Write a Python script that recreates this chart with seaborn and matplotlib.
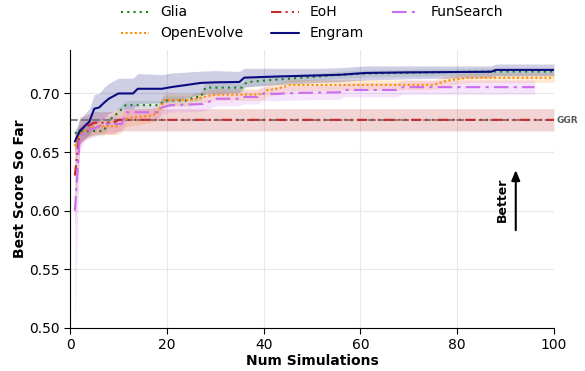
import numpy as np
import matplotlib
matplotlib.use("Agg")
import matplotlib.pyplot as plt
import seaborn as sns

# ---- best-score-so-far curves (knots of the mean curve) ----
engram_x = [1, 2, 4, 5, 6, 7, 8, 10, 13, 14, 19, 21, 24, 27, 30, 35, 36, 43, 52, 56, 61, 70, 87, 88, 100]
engram_y = [0.659, 0.668, 0.676, 0.687, 0.688, 0.692, 0.6955, 0.700, 0.700, 0.704, 0.704, 0.7055,
            0.7072, 0.709, 0.7095, 0.7098, 0.7135, 0.7145, 0.7155, 0.716, 0.7175, 0.718, 0.7185, 0.7201, 0.7201]
engram_lo = [0.008, 0.010, 0.011, 0.012, 0.012, 0.013, 0.013, 0.013, 0.013, 0.013, 0.012, 0.012,
             0.011, 0.010, 0.010, 0.009, 0.008, 0.007, 0.006, 0.006, 0.006, 0.0055, 0.005, 0.005, 0.005]
engram_hi = engram_lo

glia_x = [1, 2, 7, 8, 9, 11.5, 18.5, 19.5, 24.5, 25.5, 27, 28, 35.5, 36.5, 40, 45, 52, 56, 61, 75, 85, 100]
glia_y = [0.666, 0.668, 0.668, 0.677, 0.680, 0.690, 0.690, 0.694, 0.694, 0.697, 0.697, 0.705,
          0.705, 0.7096, 0.711, 0.7125, 0.7148, 0.716, 0.717, 0.718, 0.7187, 0.7187]
glia_lo = [0.004, 0.004, 0.004, 0.004, 0.004, 0.004, 0.004, 0.004, 0.004, 0.004, 0.004, 0.004,
           0.004, 0.004, 0.004, 0.003, 0.003, 0.003, 0.003, 0.003, 0.003, 0.003]
glia_hi = glia_lo

openevolve_x = [1, 2, 4, 5.5, 10, 11, 12, 16.5, 18, 19.5, 25.5, 27.5, 30, 38, 40, 40.6, 42.7, 45.5, 75, 78, 82, 100]
openevolve_y = [0.655, 0.665, 0.670, 0.672, 0.672, 0.677, 0.679, 0.681, 0.683, 0.6945, 0.6945, 0.697,
                0.699, 0.699, 0.6997, 0.7026, 0.704, 0.7072, 0.7074, 0.711, 0.7134, 0.7134]
openevolve_lo = [0.010, 0.008, 0.007, 0.007, 0.007, 0.007, 0.007, 0.006, 0.006, 0.006, 0.005, 0.005,
                 0.005, 0.005, 0.005, 0.005, 0.005, 0.005, 0.004, 0.004, 0.004, 0.004]
openevolve_hi = openevolve_lo

eoh_x = [1, 2, 3, 5, 9, 10, 100]
eoh_y = [0.630, 0.668, 0.671, 0.675, 0.675, 0.6775, 0.6775]
eoh_lo = [0.045, 0.012, 0.010, 0.0095, 0.0095, 0.0095, 0.0095]
eoh_hi = [0.025, 0.012, 0.010, 0.0095, 0.0095, 0.0095, 0.0095]

funsearch_x = [1, 2, 3, 5, 7, 10.7, 11.7, 18, 19, 20.7, 27.5, 30.3, 35.1, 35.8, 38.8, 39.5, 43.4, 44,
               47.5, 55.8, 56.5, 67.5, 68.8, 96]
funsearch_y = [0.600, 0.662, 0.668, 0.670, 0.674, 0.674, 0.684, 0.684, 0.688, 0.690, 0.691, 0.6955,
               0.6955, 0.697, 0.697, 0.6997, 0.6997, 0.700, 0.7005, 0.701, 0.703, 0.703, 0.7054, 0.7054]
funsearch_lo = [0.100, 0.012, 0.008, 0.007, 0.007, 0.007, 0.007, 0.006, 0.006, 0.006, 0.006, 0.006,
                0.006, 0.006, 0.006, 0.006, 0.006, 0.006, 0.006, 0.006, 0.006, 0.006, 0.006, 0.006]
funsearch_hi = [0.060, 0.010, 0.008, 0.007, 0.007, 0.007, 0.007, 0.006, 0.006, 0.006, 0.006, 0.006,
                0.006, 0.006, 0.006, 0.006, 0.006, 0.006, 0.006, 0.006, 0.006, 0.006, 0.006, 0.006]

ggr_score = 0.677

series = [
    # label, x, y, lower spread, upper spread, color, linestyle, band alpha
    ("Glia", glia_x, glia_y, glia_lo, glia_hi, "#1a7f1a", (0, (1, 2)), 0.10),
    ("OpenEvolve", openevolve_x, openevolve_y, openevolve_lo, openevolve_hi, "#ff8c00", (0, (1, 1.2)), 0.18),
    ("EoH", eoh_x, eoh_y, eoh_lo, eoh_hi, "#c42b2b", (0, (5, 2, 1, 2, 1, 2)), 0.20),
    ("Engram", engram_x, engram_y, engram_lo, engram_hi, "#0b0b80", "-", 0.20),
    ("FunSearch", funsearch_x, funsearch_y, funsearch_lo, funsearch_hi, "#cc6cf0", (0, (7, 2.5, 1.5, 2.5)), 0.18),
]

sns.set_style("whitegrid", {
    "axes.edgecolor": "black",
    "grid.color": "0.91",
    "xtick.bottom": True,
    "ytick.left": True,
    "text.color": "black",
    "axes.labelcolor": "black",
    "xtick.color": "black",
    "ytick.color": "black",
})
plt.rcParams["font.family"] = ["DejaVu Sans"]
plt.rcParams["xtick.major.size"] = 4
plt.rcParams["ytick.major.size"] = 4

fig, ax = plt.subplots(figsize=(5.85, 3.71), dpi=100)
fig.subplots_adjust(left=0.1197, right=0.947, bottom=0.116, top=0.865)

for label, xs, ys, lo, hi, color, ls, alpha in series:
    xs = np.asarray(xs, float)
    ys = np.asarray(ys, float)
    lower = np.clip(ys - np.asarray(lo, float), 0.5, None)
    upper = ys + np.asarray(hi, float)
    ax.fill_between(xs, lower, upper, color=color, alpha=alpha, linewidth=0)

ax.axhline(ggr_score, color="0.45", linestyle="--", linewidth=1.5, alpha=0.85, zorder=2)

for label, xs, ys, lo, hi, color, ls, alpha in series:
    sns.lineplot(x=xs, y=ys, ax=ax, color=color, linestyle=ls, linewidth=1.5,
                 label=label, errorbar=None, zorder=3)

ax.text(1.005, ggr_score, "GGR", transform=ax.get_yaxis_transform(),
        ha="left", va="center", fontsize=6.5, fontweight="bold", color="0.35")

ax.annotate("", xy=(92.1, 0.637), xytext=(92.1, 0.581),
            arrowprops=dict(arrowstyle="-|>,head_width=0.25,head_length=0.6",
                            color="black", lw=1.5))
ax.text(89.3, 0.609, "Better", rotation=90, ha="center", va="center",
        fontsize=9, fontweight="bold")

ax.set_xlim(0, 100)
ax.set_ylim(0.5, 0.737)
ax.set_xticks([0, 20, 40, 60, 80, 100])
ax.set_yticks([0.50, 0.55, 0.60, 0.65, 0.70])
ax.set_yticklabels(["0.50", "0.55", "0.60", "0.65", "0.70"])
ax.tick_params(labelsize=10)
ax.set_xlabel("Num Simulations", fontsize=10, fontweight="bold", labelpad=1)
ax.set_ylabel("Best Score So Far", fontsize=10, fontweight="bold", labelpad=1)
sns.despine(ax=ax)

handles, labels = ax.get_legend_handles_labels()
ax.legend(handles, labels, loc="lower center", bbox_to_anchor=(0.5, 0.99), ncol=3,
          frameon=False, fontsize=10)

fig.savefig("out.png", dpi=100)
